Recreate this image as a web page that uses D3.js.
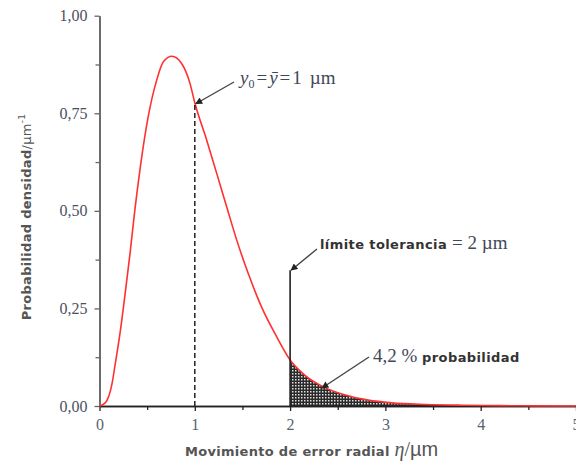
<!DOCTYPE html>
<html>
<head>
<meta charset="utf-8">
<script src="https://cdn.jsdelivr.net/npm/d3@7"></script>
<style>
  body { margin: 0; background: #fff; }
  svg { display: block; }
</style>
</head>
<body>
<div id="chart"></div>
<script>

// data (eta in um, density in 1/um)
var eta_values      = [0, 0.05, 0.08, 0.11, 0.135, 0.16, 0.215, 0.27, 0.32, 0.37, 0.43, 0.51, 0.60, 0.67, 0.76, 0.86, 0.95, 1.00,
                       1.125, 1.23, 1.335, 1.44, 1.56, 1.70, 1.86, 2.00, 2.15, 2.35, 2.58, 2.82, 3.07, 3.42, 3.80, 4.20, 4.60, 5.00];
var density_values  = [0, 0.006, 0.015, 0.035, 0.062, 0.10, 0.186, 0.29, 0.39, 0.50, 0.615, 0.74, 0.835, 0.882, 0.896, 0.878, 0.826, 0.777,
                       0.681, 0.596, 0.510, 0.425, 0.340, 0.254, 0.177, 0.118, 0.080, 0.049, 0.028, 0.015, 0.008, 0.004, 0.002, 0.001, 0.0003, 0];

var x_ticks         = [0, 1, 2, 3, 4, 5];
var x_tick_labels   = ["0", "1", "2", "3", "4", "5"];
var y_ticks         = [0, 0.25, 0.5, 0.75, 1];
var y_tick_labels   = ["0,00", "0,25", "0,50", "0,75", "1,00"];

var mean_value      = 1;       // y0 = mean = 1 um
var mean_density    = 0.777;
var tolerance_limit = 2;       // tolerance line
var tolerance_top   = 0.348;

// --------------------------------------------------------
var chart_width     = 576;
var chart_height    = 462;

var svg = d3.select("#chart")
    .append("svg")
    .attr("width", chart_width)
    .attr("height", chart_height);

var x_scale = d3.scaleLinear().domain([0, 5]).range([99.5, 576]);
var y_scale = d3.scaleLinear().domain([0, 1]).range([406, 15.7]);

var data = eta_values.map(function (e, i) { return [e, density_values[i]]; });

var serif = "'Liberation Serif', 'Times New Roman', serif";
var sans  = "'DejaVu Sans', Verdana, sans-serif";

// --------------------------------------------------------
// defs: hatch pattern + arrow head
var defs = svg.append("defs");
var pat = defs.append("pattern")
    .attr("id", "hatch")
    .attr("patternUnits", "userSpaceOnUse")
    .attr("width", 3).attr("height", 3);
pat.append("rect").attr("width", 3).attr("height", 3).attr("fill", "#2a2a2a");
pat.append("rect").attr("x", 1).attr("y", 1).attr("width", 1.5).attr("height", 1.5).attr("fill", "#e0e0e0");

defs.append("marker")
    .attr("id", "arrow")
    .attr("viewBox", "0 0 10 10")
    .attr("refX", 9).attr("refY", 5)
    .attr("markerWidth", 9).attr("markerHeight", 7)
    .attr("markerUnits", "userSpaceOnUse")
    .attr("orient", "auto")
    .append("path")
    .attr("d", "M0,0 L10,5 L0,10 Z")
    .attr("fill", "#222");

// --------------------------------------------------------
// shaded tail beyond the tolerance limit
var tail = data.filter(function (d) { return d[0] >= tolerance_limit; });
svg.append("path")
    .datum(tail)
    .attr("d", d3.area()
        .x(function (d) { return x_scale(d[0]); })
        .y0(y_scale(0))
        .y1(function (d) { return y_scale(d[1]); })
        .curve(d3.curveMonotoneX))
    .attr("fill", "url(#hatch)");

// --------------------------------------------------------
// axes
var y_axis = d3.axisLeft(y_scale)
    .tickValues(y_ticks)
    .tickFormat(function (d, i) { return y_tick_labels[i]; })
    .tickSize(5).tickSizeOuter(0).tickPadding(7);

var y_minor = d3.axisLeft(y_scale)
    .tickValues([0.125, 0.375, 0.625, 0.875])
    .tickFormat("")
    .tickSize(4).tickSizeOuter(0);

var x_axis = d3.axisBottom(x_scale)
    .tickValues(x_ticks)
    .tickFormat(function (d, i) { return x_tick_labels[i]; })
    .tickSize(5).tickSizeOuter(0).tickPadding(8);

var x_minor = d3.axisBottom(x_scale)
    .tickValues([0.5, 1.5, 2.5, 3.5, 4.5])
    .tickFormat("")
    .tickSize(4).tickSizeOuter(0);

function style_axis(g, col) {
    g.attr("font-family", serif).attr("font-size", 16);
    g.select(".domain").attr("stroke", col).attr("stroke-width", 1.6);
    g.selectAll(".tick line").attr("stroke", col).attr("stroke-width", 1.3);
    g.selectAll(".tick text").attr("fill", "#4a5260");
}

svg.append("g").attr("transform", "translate(" + x_scale(0) + ",0)").call(y_minor)
    .call(function (g) { style_axis(g, "#666"); });
svg.append("g").attr("class", "y-axis").attr("transform", "translate(" + x_scale(0) + ",0)").call(y_axis)
    .call(function (g) { style_axis(g, "#666"); });

svg.append("g").attr("transform", "translate(0," + y_scale(0) + ")").call(x_minor)
    .call(function (g) { style_axis(g, "#222"); });
svg.append("g").attr("class", "x-axis").attr("transform", "translate(0," + y_scale(0) + ")").call(x_axis)
    .call(function (g) { style_axis(g, "#222"); });

svg.selectAll(".x-axis .tick text").attr("fill", "#5a6270");

// --------------------------------------------------------
// density curve
svg.append("path")
    .datum(data)
    .attr("d", d3.line()
        .x(function (d) { return x_scale(d[0]); })
        .y(function (d) { return y_scale(d[1]); })
        .curve(d3.curveMonotoneX))
    .attr("fill", "none")
    .attr("stroke", "#ff3030")
    .attr("stroke-width", 1.6);

// mean (dashed) and tolerance line
svg.append("line")
    .attr("x1", x_scale(mean_value)).attr("x2", x_scale(mean_value))
    .attr("y1", y_scale(0)).attr("y2", y_scale(mean_density))
    .attr("stroke", "#222").attr("stroke-width", 1.5)
    .attr("stroke-dasharray", "5,3");

svg.append("line")
    .attr("x1", x_scale(tolerance_limit)).attr("x2", x_scale(tolerance_limit))
    .attr("y1", y_scale(0)).attr("y2", y_scale(tolerance_top))
    .attr("stroke", "#222").attr("stroke-width", 1.6);

// --------------------------------------------------------
// annotations
function arrow(x1, y1, x2, y2) {
    svg.append("line")
        .attr("x1", x1).attr("y1", y1).attr("x2", x2).attr("y2", y2)
        .attr("stroke", "#444").attr("stroke-width", 1.4)
        .attr("marker-end", "url(#arrow)");
}

arrow(234, 82, x_scale(mean_value) + 1, y_scale(mean_density) + 1);
arrow(317, 249, x_scale(tolerance_limit) + 1, y_scale(tolerance_top));
arrow(369, 357, 322, 388);

var t1 = svg.append("text").attr("x", 240).attr("y", 84)
    .style("font-family", serif).style("font-size", "19px").attr("fill", "#3f4857");
t1.append("tspan").style("font-style", "italic").text("y");
t1.append("tspan").attr("dy", 4).style("font-size", "12px").text("0");
t1.append("tspan").attr("dy", -4).attr("dx", 2).text("=");
t1.append("tspan").attr("dx", 2).style("font-style", "italic").text("ȳ");
t1.append("tspan").attr("dx", 2).text("=");
t1.append("tspan").attr("dx", 2).text("1");
t1.append("tspan").attr("dx", 8).text("µm");

var t2 = svg.append("text").attr("x", 320).attr("y", 249).attr("fill", "#333");
t2.append("tspan").style("font-family", sans).style("font-weight", "bold").style("font-size", "13px")
    .style("letter-spacing", "0.4px")
    .text("límite tolerancia ");
t2.append("tspan").style("font-family", serif).style("font-size", "19px").attr("fill", "#3f4857")
    .text("= 2 µm");

var t3 = svg.append("text").attr("x", 373).attr("y", 362).attr("fill", "#333");
t3.append("tspan").style("font-family", serif).style("font-size", "19px").attr("fill", "#3f4857")
    .text("4,2 % ");
t3.append("tspan").style("font-family", sans).style("font-weight", "bold").style("font-size", "13px")
    .style("letter-spacing", "0.4px")
    .text("probabilidad");

// axis titles
var xt = svg.append("text").attr("x", 185).attr("y", 456).attr("fill", "#555");
xt.append("tspan").style("font-family", sans).style("font-weight", "bold").style("font-size", "13px")
    .style("letter-spacing", "0.3px")
    .text("Movimiento de error radial ");
xt.append("tspan").style("font-family", serif).style("font-style", "italic").style("font-size", "20px").text("η");
xt.append("tspan").style("font-family", serif).style("font-size", "20px").text("/");
xt.append("tspan").style("font-family", "'Liberation Sans', Arial, sans-serif").style("font-size", "20px").text("µm");

var yt = svg.append("text")
    .attr("transform", "translate(31,217) rotate(-90)")
    .attr("text-anchor", "middle")
    .attr("fill", "#555")
    .style("font-family", sans).style("font-weight", "bold").style("font-size", "13px")
    .style("letter-spacing", "0.3px");
yt.append("tspan").text("Probabilidad densidad");
yt.append("tspan").style("font-weight", "normal").text("/µm");
yt.append("tspan").attr("dy", -6).style("font-size", "9px").style("font-weight", "normal").text("-1");

</script>
</body>
</html>
